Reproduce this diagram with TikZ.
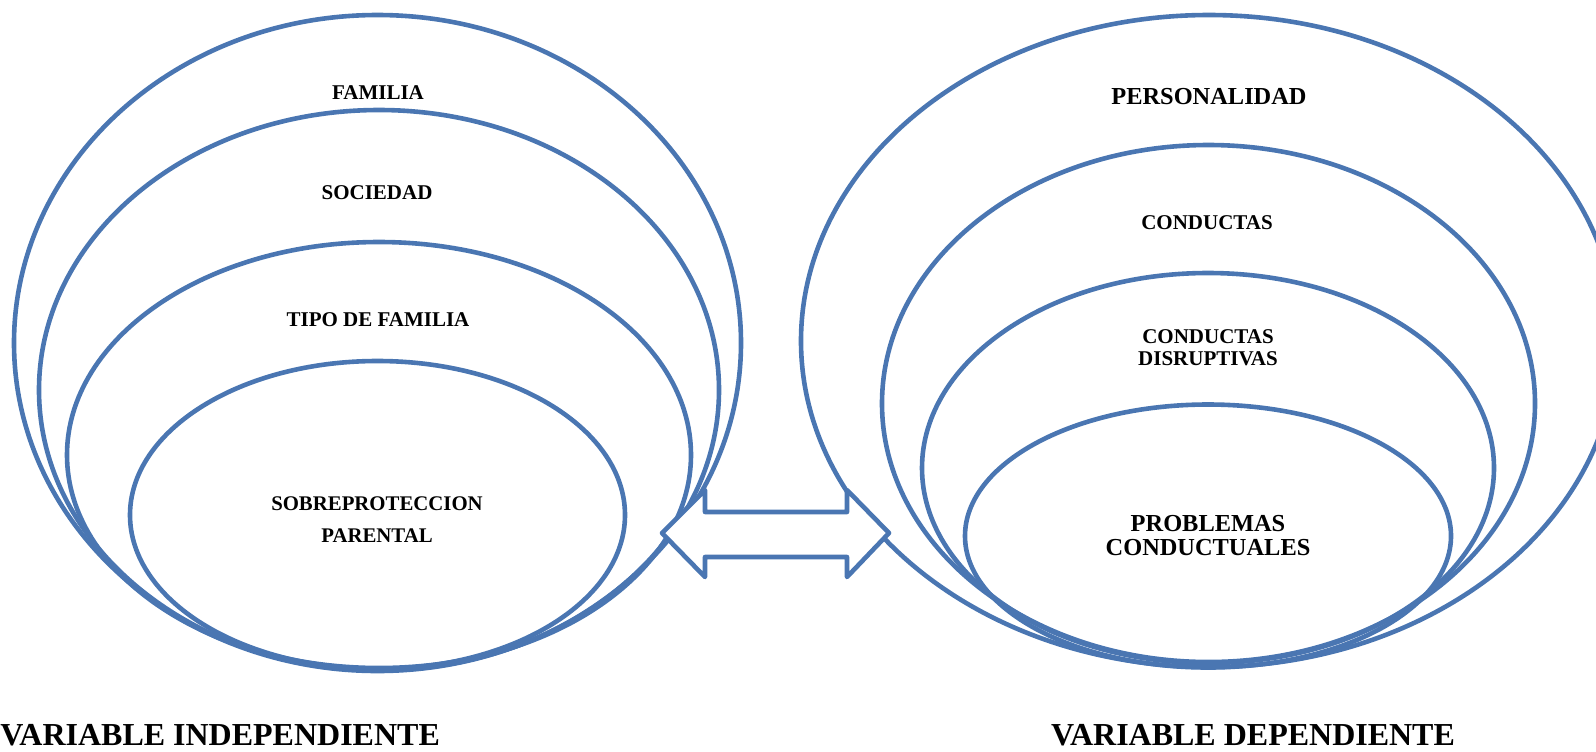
\documentclass[tikz,border=0pt]{standalone}
\usepackage{fontspec}
\setmainfont{Liberation Serif}
\usepackage{tikz}
\definecolor{ringblue}{HTML}{4A76B2}

\begin{document}
\begin{tikzpicture}[x=0.5pt,y=-0.5pt,
        ring/.style={draw=ringblue, line width=2.3pt},
        lbl/.style={inner sep=0pt, align=center, font=\bfseries\fontsize{10.5}{12}\selectfont},
        biglbl/.style={inner sep=0pt, align=center, font=\bfseries\fontsize{12.2}{12}\selectfont},
        varlbl/.style={inner sep=0pt, font=\bfseries\fontsize{16}{18}\selectfont}]
        \useasboundingbox (0,0) rectangle (1596,751);
        \clip (0,0) rectangle (1596,751);

        \draw[ring] (377.5,343) ellipse (363.5 and 328);
        \draw[ring] (379,390) ellipse (340 and 280);
        \draw[ring] (379,455) ellipse (312 and 213);
        \draw[ring] (377.5,515) ellipse (247.5 and 154);

        \draw[ring] (1209,341) ellipse (408 and 326);
        \draw[ring] (1208.5,403.5) ellipse (326.5 and 258.5);
        \draw[ring] (1208,468) ellipse (286 and 195);
        \draw[ring] (1208,536) ellipse (243 and 131.5);

        \draw[ring, fill=white, line join=round] (662,533) -- (705,490) -- (705,512) -- (847,512) -- (847,490)
            -- (889,533) -- (847,577) -- (847,557) -- (705,557) -- (705,577) -- cycle;

        \node[lbl] (fam) at (378,93) {FAMILIA};
        \node[lbl] (soc) at (377,193) {SOCIEDAD};
        \node[lbl] (tipo) at (378,320) {TIPO DE FAMILIA};
        \node[lbl, font=\bfseries\fontsize{10.4}{16}\selectfont] (sobre) at (377,520) {SOBREPROTECCION\\PARENTAL};

        \node[biglbl] (pers) at (1209,97) {PERSONALIDAD};
        \node[lbl] (cond) at (1207,223) {CONDUCTAS};
        \node[lbl, font=\bfseries\fontsize{10.5}{11}\selectfont] (disr) at (1208,348) {CONDUCTAS\\DISRUPTIVAS};
        \node[biglbl] (prob) at (1208,536) {PROBLEMAS\\CONDUCTUALES};

        \node[varlbl, anchor=west] (indep) at (0,735) {VARIABLE INDEPENDIENTE};
        \node[varlbl] (dep) at (1253,735) {VARIABLE DEPENDIENTE};
    \end{tikzpicture}
\end{document}
